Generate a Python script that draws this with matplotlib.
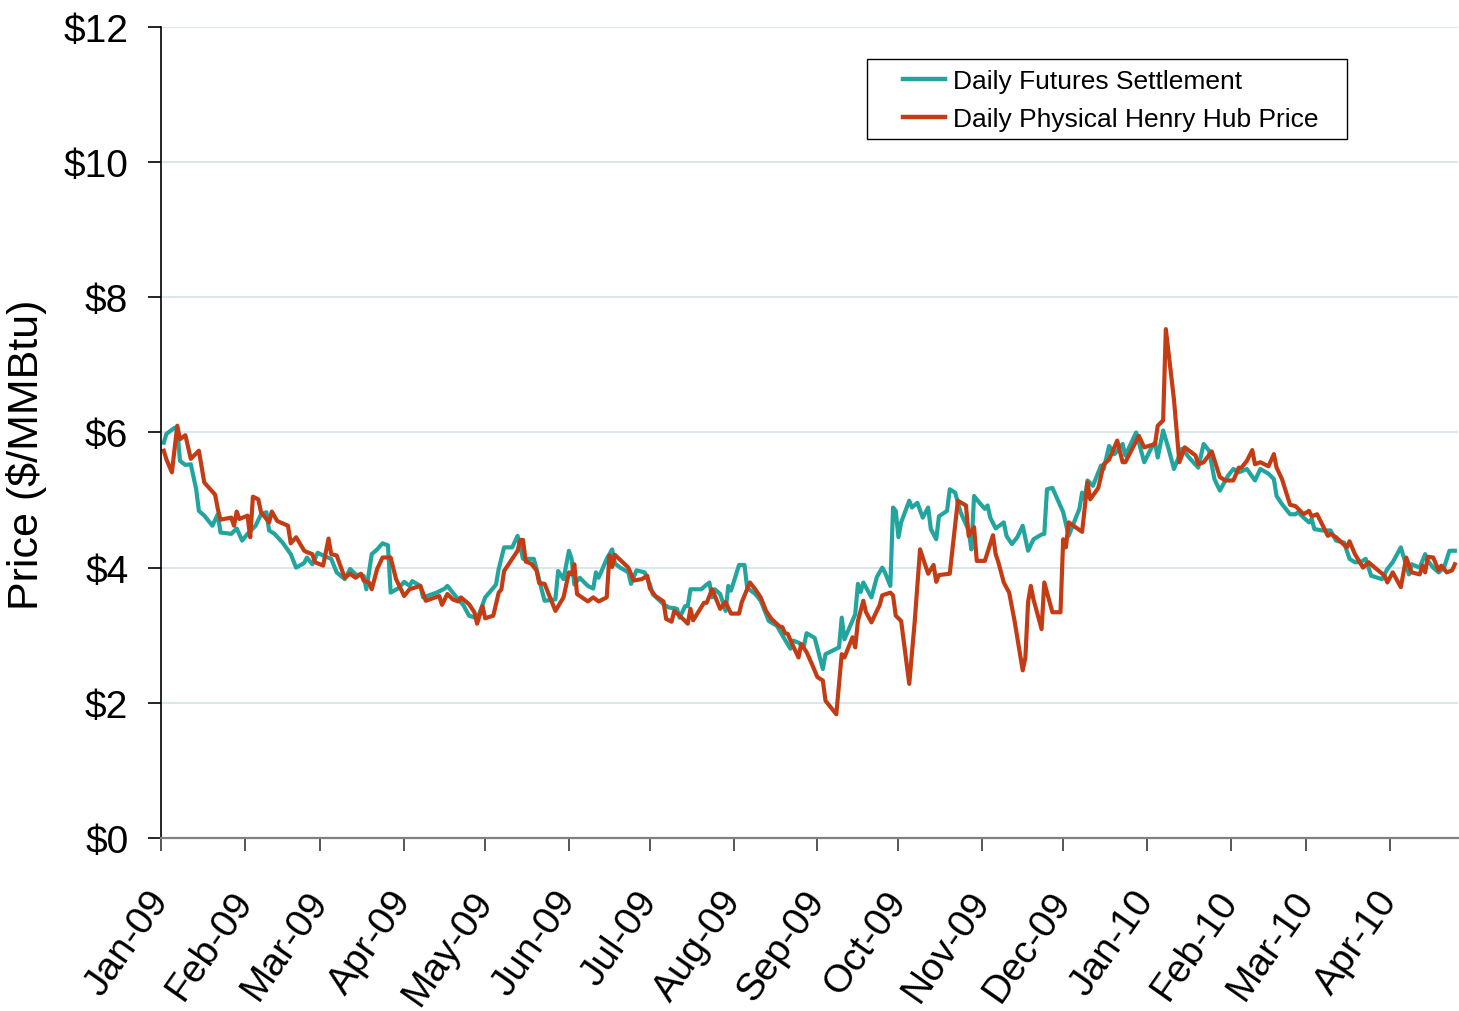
import matplotlib
matplotlib.use("Agg")
import matplotlib.pyplot as plt
import matplotlib.dates as mdates
from matplotlib.patches import Rectangle
import pandas as pd

plt.rcParams['font.family'] = ['Liberation Sans', 'DejaVu Sans']

# Daily futures settlement (teal)
fut_dates = [
    "2009-01-02", "2009-01-03", "2009-01-06", "2009-01-07", "2009-01-08", "2009-01-10", "2009-01-12",
    "2009-01-14", "2009-01-15", "2009-01-17", "2009-01-20", "2009-01-22", "2009-01-23", "2009-01-27",
    "2009-01-29", "2009-01-31", "2009-02-02", "2009-02-05", "2009-02-07", "2009-02-09", "2009-02-10",
    "2009-02-12", "2009-02-15", "2009-02-18", "2009-02-20", "2009-02-23", "2009-02-24", "2009-02-26",
    "2009-02-28", "2009-03-02", "2009-03-05", "2009-03-07", "2009-03-10", "2009-03-12", "2009-03-14",
    "2009-03-17", "2009-03-18", "2009-03-20", "2009-03-22", "2009-03-24", "2009-03-26", "2009-03-27",
    "2009-03-30", "2009-04-01", "2009-04-03", "2009-04-04", "2009-04-07", "2009-04-08", "2009-04-13",
    "2009-04-16", "2009-04-17", "2009-04-20", "2009-04-23", "2009-04-25", "2009-04-28", "2009-04-29",
    "2009-05-01", "2009-05-04", "2009-05-05", "2009-05-06", "2009-05-08", "2009-05-11", "2009-05-13",
    "2009-05-14", "2009-05-15", "2009-05-19", "2009-05-20", "2009-05-22", "2009-05-23", "2009-05-27",
    "2009-05-28", "2009-05-30", "2009-06-01", "2009-06-02", "2009-06-03", "2009-06-05", "2009-06-08",
    "2009-06-10", "2009-06-11", "2009-06-12", "2009-06-15", "2009-06-17", "2009-06-18", "2009-06-20",
    "2009-06-23", "2009-06-24", "2009-06-26", "2009-06-29", "2009-07-01", "2009-07-02", "2009-07-06",
    "2009-07-08", "2009-07-10", "2009-07-11", "2009-07-12", "2009-07-14", "2009-07-15", "2009-07-16",
    "2009-07-20", "2009-07-22", "2009-07-23", "2009-07-24", "2009-07-25", "2009-07-27", "2009-07-29",
    "2009-07-30", "2009-07-31", "2009-08-03", "2009-08-05", "2009-08-06", "2009-08-09", "2009-08-11",
    "2009-08-14", "2009-08-17", "2009-08-19", "2009-08-22", "2009-08-23", "2009-08-25", "2009-08-27",
    "2009-08-28", "2009-08-31", "2009-09-03", "2009-09-04", "2009-09-09", "2009-09-10", "2009-09-11",
    "2009-09-15", "2009-09-16", "2009-09-17", "2009-09-18", "2009-09-21", "2009-09-23", "2009-09-25",
    "2009-09-26", "2009-09-28", "2009-09-29", "2009-09-30", "2009-10-01", "2009-10-02", "2009-10-05",
    "2009-10-06", "2009-10-08", "2009-10-10", "2009-10-12", "2009-10-13", "2009-10-15", "2009-10-16",
    "2009-10-19", "2009-10-20", "2009-10-22", "2009-10-24", "2009-10-27", "2009-10-28", "2009-10-29",
    "2009-10-31", "2009-11-02", "2009-11-03", "2009-11-04", "2009-11-06", "2009-11-08", "2009-11-09",
    "2009-11-10", "2009-11-12", "2009-11-14", "2009-11-16", "2009-11-18", "2009-11-20", "2009-11-23",
    "2009-11-24", "2009-11-25", "2009-11-27", "2009-12-01", "2009-12-03", "2009-12-05", "2009-12-07",
    "2009-12-08", "2009-12-09", "2009-12-10", "2009-12-12", "2009-12-15", "2009-12-16", "2009-12-18",
    "2009-12-20", "2009-12-21", "2009-12-23", "2009-12-24", "2009-12-28", "2009-12-31", "2010-01-03",
    "2010-01-04", "2010-01-05", "2010-01-07", "2010-01-09", "2010-01-11", "2010-01-14", "2010-01-17",
    "2010-01-20", "2010-01-22", "2010-01-24", "2010-01-26", "2010-01-28", "2010-01-31", "2010-02-02",
    "2010-02-04", "2010-02-07", "2010-02-10", "2010-02-12", "2010-02-15", "2010-02-17", "2010-02-18",
    "2010-02-20", "2010-02-23", "2010-02-25", "2010-02-26", "2010-02-28", "2010-03-02", "2010-03-03",
    "2010-03-04", "2010-03-07", "2010-03-10", "2010-03-12", "2010-03-15", "2010-03-17", "2010-03-19",
    "2010-03-21", "2010-03-23", "2010-03-25", "2010-03-29", "2010-03-31", "2010-04-02", "2010-04-05",
    "2010-04-08", "2010-04-09", "2010-04-12", "2010-04-14", "2010-04-15", "2010-04-17", "2010-04-19",
    "2010-04-21", "2010-04-23", "2010-04-25",
]
fut_vals = [
    5.85, 5.98, 6.07, 6.05, 5.58, 5.52, 5.53,
    5.16, 4.84, 4.77, 4.62, 4.79, 4.52, 4.50,
    4.58, 4.40, 4.50, 4.62, 4.79, 4.82, 4.55,
    4.50, 4.37, 4.20, 4.00, 4.07, 4.15, 4.05,
    4.22, 4.18, 4.13, 3.93, 3.83, 3.98, 3.90,
    3.88, 3.68, 4.20, 4.27, 4.36, 4.33, 3.63,
    3.70, 3.79, 3.73, 3.80, 3.73, 3.56, 3.63,
    3.69, 3.73, 3.58, 3.44, 3.29, 3.25, 3.34,
    3.56, 3.70, 3.75, 3.98, 4.30, 4.30, 4.47,
    4.30, 4.13, 4.13, 3.98, 3.66, 3.51, 3.53,
    3.95, 3.83, 4.25, 4.13, 3.75, 3.85, 3.73,
    3.69, 3.93, 3.85, 4.13, 4.27, 4.06, 4.00,
    3.93, 3.76, 3.96, 3.93, 3.75, 3.61, 3.46,
    3.41, 3.40, 3.39, 3.26, 3.43, 3.43, 3.68,
    3.68, 3.75, 3.78, 3.56, 3.68, 3.61, 3.36,
    3.73, 3.66, 4.04, 4.04, 3.70, 3.61, 3.51,
    3.21, 3.14, 3.00, 2.80, 2.92, 2.89, 2.84,
    3.03, 2.96, 2.50, 2.72, 2.82, 3.26, 2.94,
    3.31, 3.76, 3.64, 3.78, 3.56, 3.86, 4.00,
    3.93, 3.73, 4.89, 4.84, 4.45, 4.67, 4.99,
    4.89, 4.96, 4.74, 4.89, 4.57, 4.42, 4.76,
    4.84, 5.16, 5.11, 4.82, 4.55, 4.27, 5.06,
    4.96, 4.87, 4.92, 4.74, 4.58, 4.64, 4.67,
    4.47, 4.35, 4.45, 4.62, 4.25, 4.42, 4.49,
    4.50, 5.16, 5.18, 4.82, 4.47, 4.67, 4.87,
    5.11, 5.01, 5.29, 5.21, 5.51, 5.46, 5.80,
    5.68, 5.73, 5.83, 5.66, 6.00, 5.56, 5.80,
    5.85, 5.63, 6.03, 5.76, 5.46, 5.76, 5.61,
    5.48, 5.83, 5.73, 5.31, 5.14, 5.36, 5.46,
    5.41, 5.46, 5.29, 5.46, 5.39, 5.31, 5.06,
    4.94, 4.79, 4.79, 4.82, 4.74, 4.67, 4.72,
    4.57, 4.55, 4.55, 4.40, 4.37, 4.13, 4.08,
    4.08, 4.13, 3.88, 3.83, 3.98, 4.08, 4.30,
    3.90, 4.05, 4.00, 4.20, 4.10, 4.00, 3.93,
    4.00, 4.25, 4.25,
]

# Daily physical Henry Hub price (red)
hh_dates = [
    "2009-01-02", "2009-01-03", "2009-01-05", "2009-01-07", "2009-01-08", "2009-01-10", "2009-01-12",
    "2009-01-15", "2009-01-17", "2009-01-21", "2009-01-22", "2009-01-23", "2009-01-27", "2009-01-28",
    "2009-01-29", "2009-01-30", "2009-02-02", "2009-02-03", "2009-02-04", "2009-02-06", "2009-02-07",
    "2009-02-10", "2009-02-11", "2009-02-13", "2009-02-17", "2009-02-18", "2009-02-20", "2009-02-23",
    "2009-02-24", "2009-02-26", "2009-02-27", "2009-03-02", "2009-03-04", "2009-03-05", "2009-03-07",
    "2009-03-10", "2009-03-12", "2009-03-14", "2009-03-16", "2009-03-17", "2009-03-19", "2009-03-20",
    "2009-03-22", "2009-03-24", "2009-03-27", "2009-03-29", "2009-04-01", "2009-04-03", "2009-04-07",
    "2009-04-09", "2009-04-14", "2009-04-15", "2009-04-17", "2009-04-19", "2009-04-21", "2009-04-22",
    "2009-04-25", "2009-04-27", "2009-04-28", "2009-04-30", "2009-05-01", "2009-05-04", "2009-05-06",
    "2009-05-07", "2009-05-08", "2009-05-13", "2009-05-14", "2009-05-15", "2009-05-16", "2009-05-18",
    "2009-05-20", "2009-05-21", "2009-05-23", "2009-05-27", "2009-05-30", "2009-06-01", "2009-06-02",
    "2009-06-03", "2009-06-04", "2009-06-08", "2009-06-10", "2009-06-12", "2009-06-15", "2009-06-16",
    "2009-06-17", "2009-06-18", "2009-06-23", "2009-06-25", "2009-06-28", "2009-06-30", "2009-07-01",
    "2009-07-03", "2009-07-06", "2009-07-07", "2009-07-09", "2009-07-10", "2009-07-13", "2009-07-15",
    "2009-07-16", "2009-07-17", "2009-07-21", "2009-07-22", "2009-07-24", "2009-07-27", "2009-07-29",
    "2009-07-31", "2009-08-03", "2009-08-04", "2009-08-07", "2009-08-09", "2009-08-11", "2009-08-13",
    "2009-08-15", "2009-08-18", "2009-08-19", "2009-08-20", "2009-08-21", "2009-08-23", "2009-08-25",
    "2009-08-26", "2009-08-28", "2009-08-30", "2009-09-01", "2009-09-03", "2009-09-04", "2009-09-08",
    "2009-09-10", "2009-09-11", "2009-09-14", "2009-09-15", "2009-09-16", "2009-09-18", "2009-09-19",
    "2009-09-21", "2009-09-23", "2009-09-24", "2009-09-25", "2009-09-28", "2009-09-29", "2009-09-30",
    "2009-10-02", "2009-10-05", "2009-10-07", "2009-10-09", "2009-10-12", "2009-10-14", "2009-10-15",
    "2009-10-16", "2009-10-20", "2009-10-23", "2009-10-26", "2009-10-27", "2009-10-29", "2009-10-30",
    "2009-11-02", "2009-11-05", "2009-11-06", "2009-11-07", "2009-11-08", "2009-11-09", "2009-11-11",
    "2009-11-13", "2009-11-16", "2009-11-17", "2009-11-18", "2009-11-19", "2009-11-20", "2009-11-23",
    "2009-11-24", "2009-11-27", "2009-11-30", "2009-12-01", "2009-12-02", "2009-12-03", "2009-12-08",
    "2009-12-10", "2009-12-11", "2009-12-14", "2009-12-16", "2009-12-18", "2009-12-21", "2009-12-23",
    "2009-12-24", "2009-12-29", "2009-12-31", "2010-01-04", "2010-01-05", "2010-01-07", "2010-01-08",
    "2010-01-11", "2010-01-13", "2010-01-15", "2010-01-19", "2010-01-20", "2010-01-22", "2010-01-25",
    "2010-01-28", "2010-01-30", "2010-02-02", "2010-02-04", "2010-02-05", "2010-02-07", "2010-02-09",
    "2010-02-10", "2010-02-12", "2010-02-15", "2010-02-17", "2010-02-18", "2010-02-20", "2010-02-23",
    "2010-02-25", "2010-02-28", "2010-03-02", "2010-03-03", "2010-03-05", "2010-03-09", "2010-03-10",
    "2010-03-12", "2010-03-16", "2010-03-17", "2010-03-19", "2010-03-22", "2010-03-24", "2010-03-27",
    "2010-03-30", "2010-03-31", "2010-04-02", "2010-04-05", "2010-04-07", "2010-04-09", "2010-04-12",
    "2010-04-13", "2010-04-14", "2010-04-15", "2010-04-17", "2010-04-19", "2010-04-20", "2010-04-22",
    "2010-04-24", "2010-04-25",
]
hh_vals = [
    5.73, 5.60, 5.41, 6.10, 5.90, 5.96, 5.61,
    5.73, 5.26, 5.08, 4.87, 4.71, 4.74, 4.62,
    4.83, 4.72, 4.77, 4.45, 5.05, 5.01, 4.82,
    4.67, 4.83, 4.69, 4.62, 4.36, 4.45, 4.25,
    4.23, 4.20, 4.08, 4.03, 4.43, 4.20, 4.18,
    3.85, 3.91, 3.85, 3.91, 3.81, 3.78, 3.68,
    3.98, 4.15, 4.15, 3.83, 3.58, 3.68, 3.73,
    3.51, 3.58, 3.45, 3.61, 3.53, 3.50, 3.56,
    3.46, 3.34, 3.17, 3.43, 3.25, 3.29, 3.63,
    3.68, 3.95, 4.25, 4.41, 4.41, 4.09, 4.06,
    3.96, 3.77, 3.76, 3.36, 3.56, 3.93, 3.90,
    4.05, 3.61, 3.50, 3.56, 3.50, 3.56, 4.18,
    4.01, 4.19, 4.00, 3.81, 3.83, 3.88, 3.69,
    3.58, 3.50, 3.24, 3.20, 3.36, 3.25, 3.17,
    3.39, 3.22, 3.48, 3.48, 3.68, 3.39, 3.49,
    3.32, 3.32, 3.49, 3.78, 3.68, 3.56, 3.36,
    3.24, 3.13, 3.12, 3.03, 3.02, 2.84, 2.67,
    2.87, 2.75, 2.57, 2.38, 2.33, 2.03, 1.83,
    2.72, 2.67, 2.97, 2.82, 3.21, 3.51, 3.34,
    3.19, 3.36, 3.44, 3.59, 3.63, 3.59, 3.29,
    3.21, 2.28, 3.19, 4.27, 3.91, 4.04, 3.79,
    3.89, 3.91, 4.99, 4.92, 4.47, 4.60, 4.10,
    4.10, 4.48, 4.20, 4.08, 3.93, 3.78, 3.63,
    3.21, 2.48, 2.67, 3.49, 3.73, 3.53, 3.09,
    3.78, 3.34, 3.34, 4.42, 4.30, 4.67, 4.53,
    5.26, 5.01, 5.18, 5.53, 5.60, 5.88, 5.56,
    5.56, 5.95, 5.78, 5.83, 6.10, 6.18, 7.53,
    6.49, 5.56, 5.78, 5.66, 5.53, 5.56, 5.72,
    5.34, 5.29, 5.29, 5.48, 5.48, 5.58, 5.74,
    5.53, 5.56, 5.50, 5.68, 5.48, 5.31, 4.93,
    4.91, 4.79, 4.84, 4.76, 4.79, 4.47, 4.50,
    4.45, 4.30, 4.39, 4.20, 4.00, 4.08, 3.98,
    3.88, 3.78, 3.93, 3.71, 4.15, 3.93, 3.90,
    4.03, 3.93, 4.16, 4.15, 3.96, 4.03, 3.93,
    3.96, 4.05,
]

y_ticks = [0, 2, 4, 6, 8, 10, 12]

fig = plt.figure(figsize=(14.59, 10.12), dpi=100)
ax = fig.add_axes([0.1104, 0.171, 0.8886, 0.8013])

ax.plot(pd.to_datetime(fut_dates), fut_vals, color='#22a59f', lw=3.0,
        label='Daily Futures Settlement', solid_joinstyle='round')
ax.plot(pd.to_datetime(hh_dates), hh_vals, color='#c43c14', lw=3.0,
        label='Daily Physical Henry Hub Price', solid_joinstyle='round')

ax.set_xlim(pd.Timestamp('2009-01-01'), pd.Timestamp('2010-04-26'))
ax.set_ylim(0, 12)
ax.set_yticks(y_ticks)
ax.set_yticklabels(['$%d' % v for v in y_ticks])
ax.yaxis.grid(True, color='#d2e3e7', lw=1.2)
ax.set_axisbelow(True)

ax.xaxis.set_major_locator(mdates.MonthLocator())
ax.xaxis.set_major_formatter(mdates.DateFormatter('%b-%y'))
for lab in ax.get_xticklabels():
    lab.set_rotation(55)
    lab.set_ha('right')
    lab.set_va('center')
    lab.set_rotation_mode('anchor')

ax.tick_params(axis='y', direction='out', length=9.5, width=1.2, pad=14,
               labelsize=28, color='black')
ax.tick_params(axis='x', direction='out', length=9.5, width=1.4, pad=31,
               labelsize=28, color='#555555')

ax.spines['top'].set_visible(False)
ax.spines['right'].set_visible(False)
ax.spines['left'].set_linewidth(1.2)
ax.spines['bottom'].set_color('#808080')
ax.spines['bottom'].set_linewidth(1.6)

ax.set_ylabel('Price ($/MMBtu)', fontsize=31)
ax.yaxis.set_label_coords(-0.088, 0.4735)

# legend: entries without frame, plain black box drawn around them
leg = fig.legend(loc='upper left', bbox_to_anchor=(0.619, 0.931), fontsize=19,
                 frameon=False, handlelength=1.6, borderpad=0, labelspacing=0.55,
                 handletextpad=0.3, borderaxespad=0)
for h in leg.legend_handles:
    h.set_linewidth(3.2)
fig.patches.append(Rectangle((0.5942, 0.8617), 0.329, 0.079, transform=fig.transFigure,
                             fill=False, edgecolor='black', lw=1.0))

fig.savefig('out.png', dpi=100)
